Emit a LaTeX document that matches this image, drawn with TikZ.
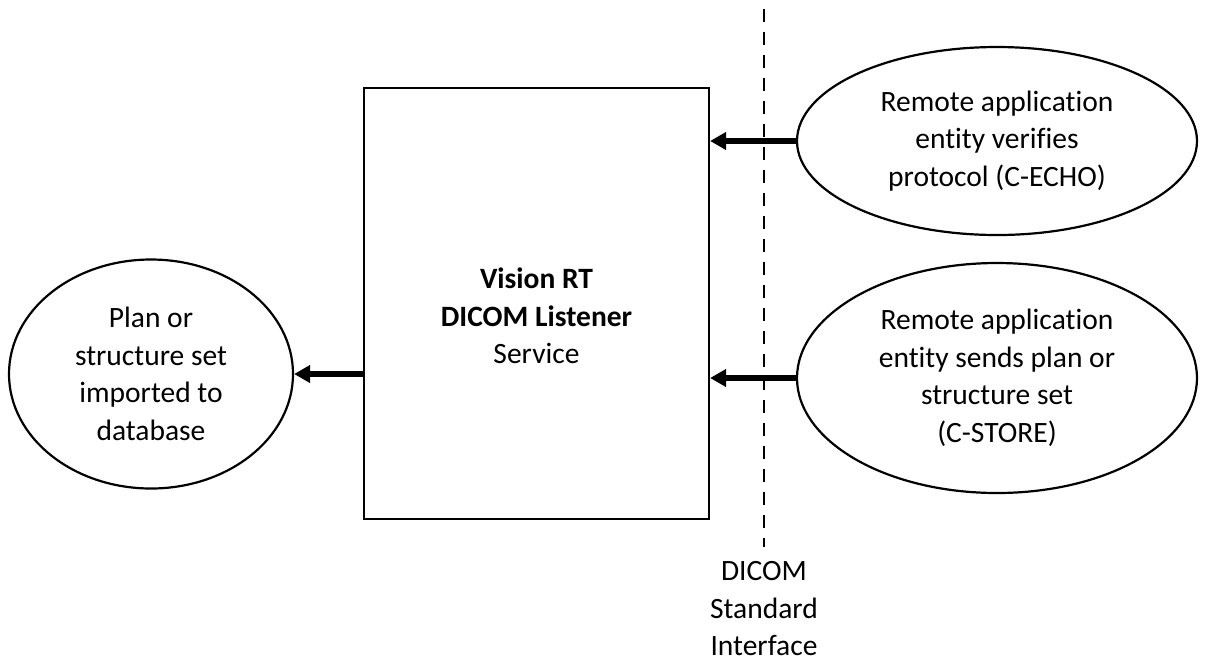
\documentclass[tikz,border=0pt]{standalone}
\usepackage{fontspec}
\setmainfont{Carlito}[Ligatures=NoCommon]
\usetikzlibrary{shapes.geometric,arrows.meta,positioning,calc}
\tikzstyle{RECTANGLE_1} = [rectangle, draw, line width=1.1pt, minimum width=172.5pt, minimum height=215.5pt]
\tikzstyle{ELLIPSE_1} = [ellipse, draw, line width=1.1pt, align=center, inner sep=0pt]
\tikzstyle{ARROW} = [draw, line width=3.4pt, -{Triangle[length=8pt,width=8.5pt]}]
\tikzstyle{DASHED} = [draw, line width=1.4pt, dash pattern=on 6.5pt off 5pt]

\begin{document}
\begin{tikzpicture}[x=0.5pt, y=-0.5pt, font=\fontsize{14.75}{18.75}\selectfont]
\useasboundingbox (0,0) rectangle (1206,661);
% Define
\tikzstyle{ELLIPSE_2} = [ELLIPSE_1, minimum width=200pt, minimum height=94pt]
\tikzstyle{ELLIPSE_3} = [ELLIPSE_1, minimum width=200pt, minimum height=115pt]
\tikzstyle{ELLIPSE_4} = [ELLIPSE_1, minimum width=142pt, minimum height=114.5pt]
% Place nodes
\node [RECTANGLE_1] (listener) at (536.5,303.5) {};
\node [align=center] (listener_text) at (536.5,316) {\textbf{Vision RT}\\ \textbf{DICOM Listener}\\ Service};
\node [ELLIPSE_2] (echo) at (997,141) {Remote application\\ entity verifies\\ protocol (C-ECHO)};
\node [ELLIPSE_3] (store) at (997,378) {Remote application\\ entity sends plan or\\ structure set\\ (C-STORE)};
\node [ELLIPSE_4] (import) at (151,374) {Plan or\\ structure set\\ imported to\\ database};
\coordinate (iface_top) at (764,9);
\coordinate (iface_bottom) at (764,547);
\node [align=center] (iface) at (764,609) {DICOM\\ Standard\\ Interface};
% LINES and ARROWS
\path [DASHED] (iface_top) -- (iface_bottom);
\path [ARROW] (echo.west) -- (echo.west -| listener.east);
\path [ARROW] (store.west) -- (store.west -| listener.east);
\path [ARROW] (import.east -| listener.west) -- (import.east);
\end{tikzpicture}
\end{document}
